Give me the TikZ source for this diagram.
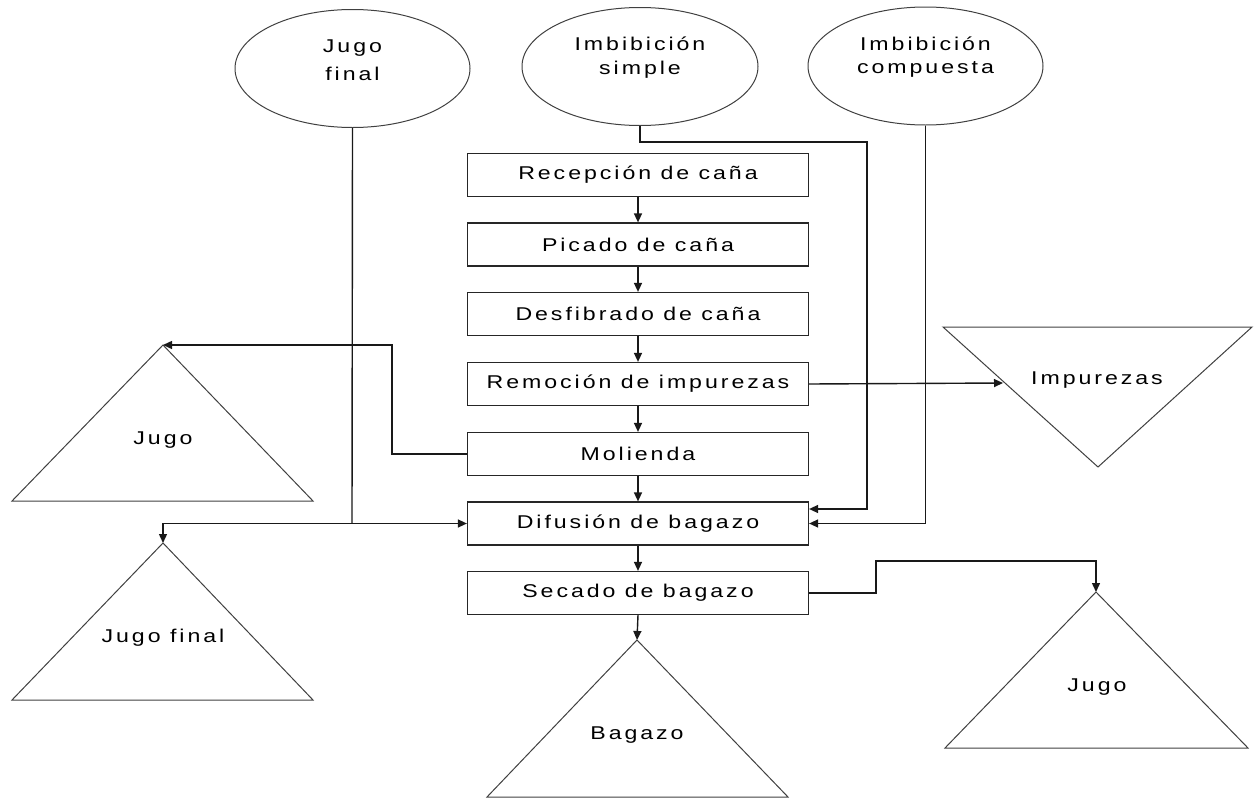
\documentclass[tikz,border=0pt]{standalone}
\usepackage{fontspec}
\setmainfont{Liberation Sans}[FakeStretch=1.25,LetterSpace=16]
\usetikzlibrary{arrows.meta,shapes.geometric}
\begin{document}
\begin{tikzpicture}[x=1pt,y=-1pt,
  font=\fontsize{18.5pt}{22pt}\selectfont,
  line width=1.2pt,
  stepbox/.style={draw=black!85,minimum width=341pt,minimum height=43pt,inner sep=0pt},
  ell/.style={ellipse,draw=black!75,line width=1pt,minimum height=118pt,inner sep=0pt},
  tri/.style={draw=black!75,line width=1pt},
  con/.style={draw=black!90,line width=1.4pt},
  arr/.style={con,-{Triangle[length=9pt,width=8pt]}}]
\useasboundingbox (0,0) rectangle (1254,798);
% ellipses
\node[ell,minimum width=235pt] (jf) at (352.5,68.5) {};
\node[anchor=base] (jft1) at (352.5,52) {Jugo};
\node[anchor=base] (jft2) at (352.5,80) {final};
\node[ell,minimum width=236pt] (is) at (640,66.5) {};
\node[anchor=base] (ist1) at (640,50) {Imbibición};
\node[anchor=base] (ist2) at (640,74) {simple};
\node[ell,minimum width=235pt] (ic) at (925.5,66) {};
\node[anchor=base] (ict1) at (925.5,50) {Imbibición};
\node[anchor=base] (ict2) at (925.5,73) {compuesta};
% boxes
\node[stepbox] (rec) at (638,175) {Recepción de caña};
\node[stepbox] (pic) at (638,244.5) {Picado de caña};
\node[stepbox] (des) at (638,314) {Desfibrado de caña};
\node[stepbox] (rem) at (638,384) {Remoción de impurezas};
\node[stepbox] (mol) at (638,454) {Molienda};
\node[stepbox] (dif) at (638,523.5) {Difusión de bagazo};
\node[stepbox] (sec) at (638,593) {Secado de bagazo};
% triangles
\coordinate (jl) at (163,345);
\draw[tri] (jl) -- (313,501) -- (12,501) -- cycle;
\node (jlt) at (163,440) {Jugo};
\coordinate (jfl) at (163,543);
\draw[tri] (jfl) -- (313,700) -- (12,700) -- cycle;
\node (jflt) at (163,638) {Jugo final};
\coordinate (bag) at (637,640);
\draw[tri] (bag) -- (788,797) -- (487,797) -- cycle;
\node (bagt) at (637,735) {Bagazo};
\coordinate (jr) at (1096,592);
\draw[tri] (jr) -- (1248,748) -- (945,748) -- cycle;
\node (jrt) at (1097,687) {Jugo};
\draw[tri] (943,327) -- (1252,327) -- (1098,467) -- cycle;
\coordinate (imp) at (1003,383);
\node (impt) at (1097,380) {Impurezas};
% main chain
\draw[arr] (rec) -- (pic);
\draw[arr] (pic) -- (des);
\draw[arr] (des) -- (rem);
\draw[arr] (rem) -- (mol);
\draw[arr] (mol) -- (dif);
\draw[arr] (dif) -- (sec);
\draw[arr] (sec.south) -- (bag);
% side flows
\coordinate (jfj) at (352,523.5);
\draw[con] (jf.south) -- (jfj);
\draw[arr] (jfj) -- (dif.west);
\draw[arr] (jfj) -| (jfl);
\draw[arr] (mol.west) -- (392,454) |- (jl);
\draw[arr] (is.south) |- (867,142) |- ([yshift=14.5pt]dif.east);
\draw[arr] (ic.south) |- (dif.east);
\draw[arr] (rem.east) -- (imp);
\draw[arr] (sec.east) -- (876,593) |- (1096,561) -- (jr);
\end{tikzpicture}
\end{document}
